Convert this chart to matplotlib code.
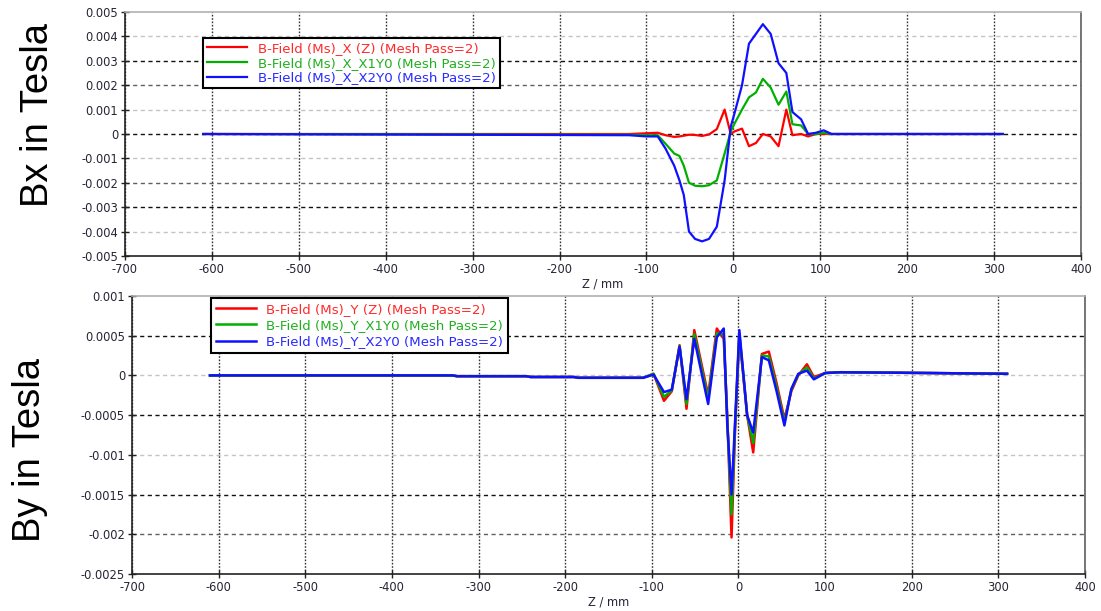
import matplotlib as mpl
mpl.use('Agg')
import matplotlib.pyplot as plt

# ---- data ----
# Bx vs z
z_bx = [-610, -120, -100, -87, -78, -68, -62, -57, -51, -44, -36, -28, -19, -10, -3, 1,
        10, 18, 26, 34, 43, 52, 61, 68, 78, 86, 95, 104, 113, 310]
bx_z = [0, 0, 0.00003, 0.00005, -0.00005, -0.00012, -0.0001, -0.00007, -0.00003, -0.00004,
        -0.00008, -0.00002, 0.0002, 0.001, 0.0, 0.0001,
        0.00022, -0.0005, -0.00037, 0.0, -0.0001, -0.0005, 0.001, -0.00005, 0.0, -0.0001,
        0.0, 0.0, 0.0, 0]
bx_x1y0 = [0, -0.00003, -0.00005, -0.00005, -0.0004, -0.0008, -0.0009, -0.0013, -0.002, -0.00212,
           -0.00214, -0.0021, -0.0019, -0.0008, 0.0001, 0.0004,
           0.001, 0.0015, 0.0017, 0.00226, 0.0019, 0.0012, 0.00174, 0.0004, 0.00035, 0.0,
           0.0, 0.00005, 0.0, 0]
bx_x2y0 = [0, -0.00005, -0.0001, -0.0001, -0.0006, -0.0013, -0.0019, -0.0025, -0.004, -0.0043,
           -0.0044, -0.0043, -0.0038, -0.0019, 0.0003, 0.0008,
           0.002, 0.0037, 0.0041, 0.0045, 0.0041, 0.0029, 0.0025, 0.0009, 0.0006, 0.0,
           0.00005, 0.00015, 0.0, 0]

# By vs z
z_by = [-610, -330, -325, -245, -240, -190, -185, -110, -98, -86, -77, -68, -60, -51, -35,
        -25, -17, -13, -8, -4, 1, 10, 17, 27, 35, 44, 53, 61, 69, 79, 87, 100, 118, 220, 310]
by_z = [0, 0, -0.00001, -0.00001, -0.00002, -0.00002, -0.00003, -0.00003, 0.00002, -0.00032,
        -0.0002, 0.00038, -0.00042, 0.00057, -0.00025,
        0.00059, 0.00046, -0.0005, -0.00204, -0.0007, 0.0005, -0.0005, -0.00097, 0.00027,
        0.0003, -0.0001, -0.00055, -0.0002, 0.0, 0.00014, -0.00002, 0.00003, 0.00004,
        0.00003, 0.00002]
by_x1y0 = [0, 0, -0.00001, -0.00001, -0.00002, -0.00002, -0.00003, -0.00003, 0.00002, -0.00027,
           -0.00019, 0.00037, -0.00036, 0.00052, -0.0003,
           0.00053, 0.00052, -0.00055, -0.00175, -0.00065, 0.00053, -0.0005, -0.00085, 0.00025,
           0.00024, -0.00015, -0.00059, -0.00018, 0.00001, 0.0001, -0.00004, 0.00003, 0.00004,
           0.00003, 0.00002]
by_x2y0 = [0, 0, -0.00001, -0.00001, -0.00002, -0.00002, -0.00003, -0.00003, 0.00001, -0.00021,
           -0.00018, 0.00036, -0.0003, 0.00046, -0.00036,
           0.00048, 0.00059, -0.0006, -0.0015, -0.0006, 0.00057, -0.0005, -0.00072, 0.00023,
           0.00019, -0.0002, -0.00063, -0.00017, 0.00002, 0.00006, -0.00005, 0.00003, 0.00004,
           0.00003, 0.00002]

x_ticks = [-700, -600, -500, -400, -300, -200, -100, 0, 100, 200, 300, 400]
bx_ticks = [-0.005, -0.004, -0.003, -0.002, -0.001, 0, 0.001, 0.002, 0.003, 0.004, 0.005]
bx_labels = ['-0.005', '-0.004', '-0.003', '-0.002', '-0.001', '0', '0.001', '0.002', '0.003', '0.004', '0.005']
by_ticks = [-0.0025, -0.002, -0.0015, -0.001, -0.0005, 0, 0.0005, 0.001]
by_labels = ['-0.0025', '-0.002', '-0.0015', '-0.001', '-0.0005', '0', '0.0005', '0.001']

bx_names = ['B-Field (Ms)_X (Z) (Mesh Pass=2)', 'B-Field (Ms)_X_X1Y0 (Mesh Pass=2)',
            'B-Field (Ms)_X_X2Y0 (Mesh Pass=2)']
by_names = ['B-Field (Ms)_Y (Z) (Mesh Pass=2)', 'B-Field (Ms)_Y_X1Y0 (Mesh Pass=2)',
            'B-Field (Ms)_Y_X2Y0 (Mesh Pass=2)']

colors = ['#ff0000', '#00b000', '#1010ff']
txt_colors = ['#ff2a2a', '#22b022', '#2a2aff']
tick_col = '#252535'

fig = plt.figure(figsize=(11.01, 6.11), dpi=100)
ax1 = fig.add_axes([0.1135, 0.581, 0.8683, 0.3994])
ax2 = fig.add_axes([0.1199, 0.0606, 0.8656, 0.455])


def style(ax, yt, yl, grid_cols):
    ax.set_xlim(-700, 400)
    ax.set_xticks(x_ticks)
    ax.set_xticklabels([str(v) for v in x_ticks])
    ax.set_yticks(yt)
    ax.set_yticklabels(yl)
    ax.set_ylim(yt[0], yt[-1])
    ax.tick_params(direction='inout', length=6, width=1, labelsize=8.3,
                   labelcolor=tick_col, color='#222222', pad=2)
    ax.grid(True, axis='x', linestyle=(0, (1.2, 1.2)), color='#333333', lw=1)
    ax.grid(True, axis='y', linestyle=(0, (3, 2.5)), lw=1)
    for gl, c in zip(ax.get_ygridlines(), grid_cols):
        if c is None:
            gl.set_visible(False)
        else:
            gl.set_color(c)
    ax.set_axisbelow(True)
    ax.spines['left'].set_color('#222222')
    ax.spines['bottom'].set_color('#222222')
    ax.spines['top'].set_color('#b0b0b0')
    ax.spines['right'].set_color('#606060')
    for s in ax.spines.values():
        s.set_linewidth(1.2)
    ax.set_xlabel('Z / mm', fontsize=8.3, color=tick_col, labelpad=1)


lt, dk, bk = '#c4c4c4', '#606060', '#111111'
style(ax1, bx_ticks, bx_labels, [None, lt, bk, dk, lt, bk, lt, dk, bk, lt, None])
style(ax2, by_ticks, by_labels, [None, dk, bk, lt, bk, lt, bk, None])

for ys, c, n in zip([bx_z, bx_x1y0, bx_x2y0], colors, bx_names):
    ax1.plot(z_bx, ys, color=c, lw=1.6, label=n)
for ys, c, n in zip([by_z, by_x1y0, by_x2y0], colors, by_names):
    ax2.plot(z_by, ys, color=c, lw=1.8, label=n)

leg1 = ax1.legend(loc='upper left', bbox_to_anchor=(0.0816, 0.893), borderaxespad=0,
                  fontsize=9.6, handlelength=3.0, handletextpad=0.8, labelspacing=0.12,
                  borderpad=0.3, fancybox=False, framealpha=1, edgecolor='black')
leg2 = ax2.legend(loc='upper left', bbox_to_anchor=(0.083, 0.993), borderaxespad=0,
                  fontsize=9.6, handlelength=3.0, handletextpad=0.8, labelspacing=0.25,
                  borderpad=0.35, fancybox=False, framealpha=1, edgecolor='black')
for leg in (leg1, leg2):
    leg.get_frame().set_linewidth(1.5)
    for t, c in zip(leg.get_texts(), txt_colors):
        t.set_color(c)

fig.text(0.0345, 1 - 115 / 611, 'Bx in Tesla', rotation=90, ha='center', va='center',
         fontsize=27.5, family='Liberation Sans')
fig.text(0.0272, 1 - 450 / 611, 'By in Tesla', rotation=90, ha='center', va='center',
         fontsize=27.5, family='Liberation Sans')

fig.savefig('out.png', dpi=100, facecolor='white')
